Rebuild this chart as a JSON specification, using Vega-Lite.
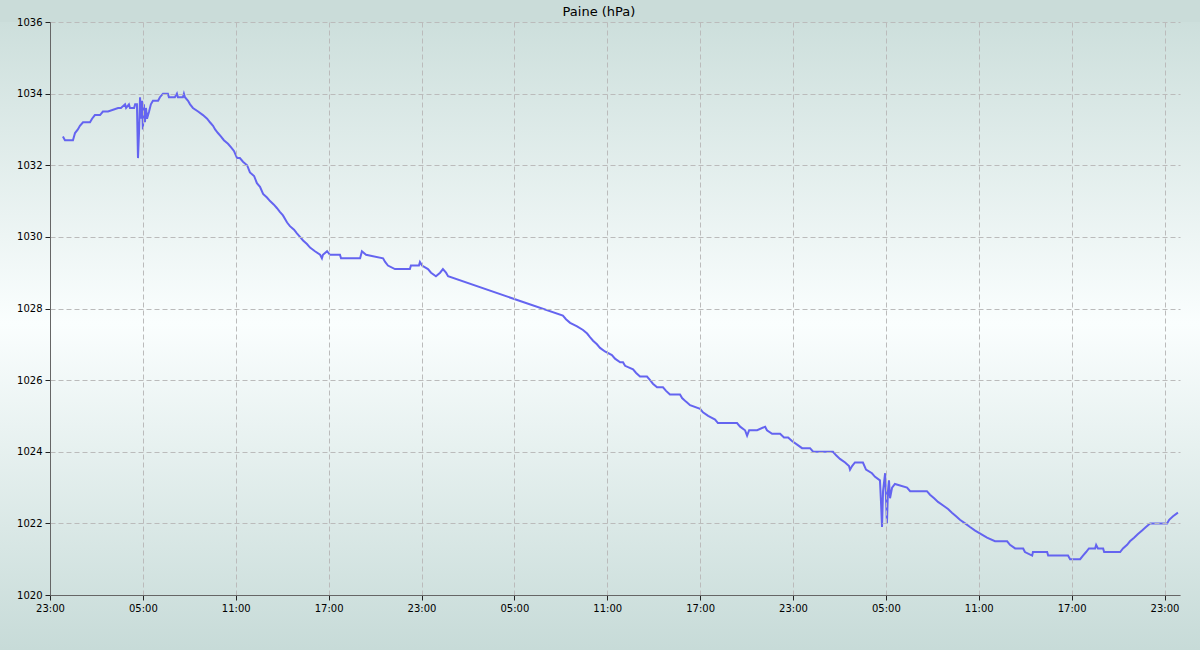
{
  "$schema": "https://vega.github.io/schema/vega-lite/v6.json",
  "width": 1130,
  "height": 573,
  "autosize": "none",
  "padding": {"left": 50, "top": 22, "right": 20, "bottom": 55},
  "background": "#cadcd9",
  "title": {"text": "Paine (hPa)", "fontSize": 13, "fontWeight": "normal", "font": "DejaVu Sans", "color": "#000000", "anchor": "middle", "offset": -2, "dx": -16},
  "config": {
    "font": "DejaVu Sans",
    "view": {"stroke": "#666666", "strokeWidth": 1},
    "axis": {"domainColor": "#666666", "tickColor": "#222222", "labelColor": "#000000", "labelFontSize": 10, "gridColor": "#bbbbbb", "gridDash": [5, 3], "tickSize": 5}
  },
  "layer": [
    {
      "data": {"values": [{"t1": "2023-01-01T18:00", "t2": "2023-01-05T06:00", "p1": 1036, "p2": 1018.464}]},
      "mark": {"type": "rect", "fill": {"gradient": "linear", "x1": 0, "y1": 0, "x2": 0, "y2": 1, "stops": [{"offset": 0, "color": "#cddfdc"}, {"offset": 0.48, "color": "#fafefe"}, {"offset": 1, "color": "#c7dbd8"}]}},
      "encoding": {
        "x": {"field": "t1", "type": "temporal", "scale": {"domain": ["2023-01-01T23:00", "2023-01-05T00:00"], "nice": false},
          "axis": {"title": null, "zindex": 1, "format": "%H:%M", "labelFlush": false, "labelPadding": 3,
            "values": [
              {"year": 2023, "month": 1, "date": 1, "hours": 23},
              {"year": 2023, "month": 1, "date": 2, "hours": 5},
              {"year": 2023, "month": 1, "date": 2, "hours": 11},
              {"year": 2023, "month": 1, "date": 2, "hours": 17},
              {"year": 2023, "month": 1, "date": 2, "hours": 23},
              {"year": 2023, "month": 1, "date": 3, "hours": 5},
              {"year": 2023, "month": 1, "date": 3, "hours": 11},
              {"year": 2023, "month": 1, "date": 3, "hours": 17},
              {"year": 2023, "month": 1, "date": 3, "hours": 23},
              {"year": 2023, "month": 1, "date": 4, "hours": 5},
              {"year": 2023, "month": 1, "date": 4, "hours": 11},
              {"year": 2023, "month": 1, "date": 4, "hours": 17},
              {"year": 2023, "month": 1, "date": 4, "hours": 23}
            ]}},
        "x2": {"field": "t2"},
        "y": {"field": "p1", "type": "quantitative", "scale": {"domain": [1020, 1036], "nice": false, "zero": false},
          "axis": {"title": null, "zindex": 1, "format": "d", "labelFlush": false, "labelPadding": 3, "values": [1020, 1022, 1024, 1026, 1028, 1030, 1032, 1034, 1036]}},
        "y2": {"field": "p2"}
      }
    },
    {
      "data": {"values": [
        {"t": "2023-01-01T23:50", "p": 1032.8},
        {"t": "2023-01-01T23:58", "p": 1032.7},
        {"t": "2023-01-02T00:29", "p": 1032.7},
        {"t": "2023-01-02T00:37", "p": 1032.9},
        {"t": "2023-01-02T00:48", "p": 1033.0},
        {"t": "2023-01-02T00:56", "p": 1033.1},
        {"t": "2023-01-02T01:08", "p": 1033.2},
        {"t": "2023-01-02T01:35", "p": 1033.2},
        {"t": "2023-01-02T01:43", "p": 1033.3},
        {"t": "2023-01-02T01:54", "p": 1033.4},
        {"t": "2023-01-02T02:14", "p": 1033.4},
        {"t": "2023-01-02T02:25", "p": 1033.5},
        {"t": "2023-01-02T02:45", "p": 1033.5},
        {"t": "2023-01-02T03:24", "p": 1033.6},
        {"t": "2023-01-02T03:35", "p": 1033.6},
        {"t": "2023-01-02T03:51", "p": 1033.7},
        {"t": "2023-01-02T03:55", "p": 1033.6},
        {"t": "2023-01-02T04:06", "p": 1033.7},
        {"t": "2023-01-02T04:10", "p": 1033.6},
        {"t": "2023-01-02T04:26", "p": 1033.6},
        {"t": "2023-01-02T04:30", "p": 1033.7},
        {"t": "2023-01-02T04:37", "p": 1033.7},
        {"t": "2023-01-02T04:41", "p": 1032.2},
        {"t": "2023-01-02T04:45", "p": 1032.9},
        {"t": "2023-01-02T04:49", "p": 1033.9},
        {"t": "2023-01-02T04:53", "p": 1033.3},
        {"t": "2023-01-02T04:57", "p": 1033.8},
        {"t": "2023-01-02T05:00", "p": 1033.0},
        {"t": "2023-01-02T05:04", "p": 1033.7},
        {"t": "2023-01-02T05:08", "p": 1033.2},
        {"t": "2023-01-02T05:12", "p": 1033.6},
        {"t": "2023-01-02T05:16", "p": 1033.3},
        {"t": "2023-01-02T05:24", "p": 1033.5},
        {"t": "2023-01-02T05:31", "p": 1033.7},
        {"t": "2023-01-02T05:39", "p": 1033.8},
        {"t": "2023-01-02T05:59", "p": 1033.8},
        {"t": "2023-01-02T06:06", "p": 1033.9},
        {"t": "2023-01-02T06:18", "p": 1034.0},
        {"t": "2023-01-02T06:37", "p": 1034.0},
        {"t": "2023-01-02T06:41", "p": 1033.9},
        {"t": "2023-01-02T07:04", "p": 1033.9},
        {"t": "2023-01-02T07:12", "p": 1034.0},
        {"t": "2023-01-02T07:16", "p": 1033.9},
        {"t": "2023-01-02T07:35", "p": 1033.9},
        {"t": "2023-01-02T07:39", "p": 1034.0},
        {"t": "2023-01-02T07:43", "p": 1033.9},
        {"t": "2023-01-02T07:55", "p": 1033.8},
        {"t": "2023-01-02T08:03", "p": 1033.7},
        {"t": "2023-01-02T08:14", "p": 1033.6},
        {"t": "2023-01-02T08:34", "p": 1033.5},
        {"t": "2023-01-02T08:53", "p": 1033.4},
        {"t": "2023-01-02T09:09", "p": 1033.3},
        {"t": "2023-01-02T09:20", "p": 1033.2},
        {"t": "2023-01-02T09:32", "p": 1033.1},
        {"t": "2023-01-02T09:40", "p": 1033.0},
        {"t": "2023-01-02T09:51", "p": 1032.9},
        {"t": "2023-01-02T10:03", "p": 1032.8},
        {"t": "2023-01-02T10:14", "p": 1032.7},
        {"t": "2023-01-02T10:30", "p": 1032.6},
        {"t": "2023-01-02T10:42", "p": 1032.5},
        {"t": "2023-01-02T10:53", "p": 1032.4},
        {"t": "2023-01-02T11:05", "p": 1032.2},
        {"t": "2023-01-02T11:16", "p": 1032.2},
        {"t": "2023-01-02T11:28", "p": 1032.1},
        {"t": "2023-01-02T11:44", "p": 1032.0},
        {"t": "2023-01-02T11:55", "p": 1031.8},
        {"t": "2023-01-02T12:11", "p": 1031.7},
        {"t": "2023-01-02T12:22", "p": 1031.5},
        {"t": "2023-01-02T12:34", "p": 1031.4},
        {"t": "2023-01-02T12:46", "p": 1031.2},
        {"t": "2023-01-02T13:01", "p": 1031.1},
        {"t": "2023-01-02T13:13", "p": 1031.0},
        {"t": "2023-01-02T13:28", "p": 1030.9},
        {"t": "2023-01-02T13:40", "p": 1030.8},
        {"t": "2023-01-02T13:51", "p": 1030.7},
        {"t": "2023-01-02T14:03", "p": 1030.6},
        {"t": "2023-01-02T14:19", "p": 1030.4},
        {"t": "2023-01-02T14:30", "p": 1030.3},
        {"t": "2023-01-02T14:46", "p": 1030.2},
        {"t": "2023-01-02T14:57", "p": 1030.1},
        {"t": "2023-01-02T15:09", "p": 1030.0},
        {"t": "2023-01-02T15:21", "p": 1029.9},
        {"t": "2023-01-02T15:36", "p": 1029.8},
        {"t": "2023-01-02T15:48", "p": 1029.7},
        {"t": "2023-01-02T16:07", "p": 1029.6},
        {"t": "2023-01-02T16:27", "p": 1029.5},
        {"t": "2023-01-02T16:34", "p": 1029.4},
        {"t": "2023-01-02T16:38", "p": 1029.5},
        {"t": "2023-01-02T16:54", "p": 1029.6},
        {"t": "2023-01-02T17:05", "p": 1029.5},
        {"t": "2023-01-02T17:44", "p": 1029.5},
        {"t": "2023-01-02T17:48", "p": 1029.4},
        {"t": "2023-01-02T19:02", "p": 1029.4},
        {"t": "2023-01-02T19:09", "p": 1029.6},
        {"t": "2023-01-02T19:25", "p": 1029.5},
        {"t": "2023-01-02T20:31", "p": 1029.4},
        {"t": "2023-01-02T20:39", "p": 1029.3},
        {"t": "2023-01-02T20:50", "p": 1029.2},
        {"t": "2023-01-02T21:17", "p": 1029.1},
        {"t": "2023-01-02T22:15", "p": 1029.1},
        {"t": "2023-01-02T22:19", "p": 1029.2},
        {"t": "2023-01-02T22:50", "p": 1029.2},
        {"t": "2023-01-02T22:54", "p": 1029.3},
        {"t": "2023-01-02T23:02", "p": 1029.2},
        {"t": "2023-01-02T23:25", "p": 1029.1},
        {"t": "2023-01-02T23:37", "p": 1029.0},
        {"t": "2023-01-02T23:56", "p": 1028.9},
        {"t": "2023-01-03T00:12", "p": 1029.0},
        {"t": "2023-01-03T00:23", "p": 1029.1},
        {"t": "2023-01-03T00:35", "p": 1029.0},
        {"t": "2023-01-03T00:43", "p": 1028.9},
        {"t": "2023-01-03T08:08", "p": 1027.8},
        {"t": "2023-01-03T08:20", "p": 1027.7},
        {"t": "2023-01-03T08:36", "p": 1027.6},
        {"t": "2023-01-03T09:03", "p": 1027.5},
        {"t": "2023-01-03T09:26", "p": 1027.4},
        {"t": "2023-01-03T09:42", "p": 1027.3},
        {"t": "2023-01-03T09:53", "p": 1027.2},
        {"t": "2023-01-03T10:05", "p": 1027.1},
        {"t": "2023-01-03T10:20", "p": 1027.0},
        {"t": "2023-01-03T10:32", "p": 1026.9},
        {"t": "2023-01-03T10:51", "p": 1026.8},
        {"t": "2023-01-03T11:18", "p": 1026.7},
        {"t": "2023-01-03T11:30", "p": 1026.6},
        {"t": "2023-01-03T11:50", "p": 1026.5},
        {"t": "2023-01-03T12:01", "p": 1026.5},
        {"t": "2023-01-03T12:09", "p": 1026.4},
        {"t": "2023-01-03T12:40", "p": 1026.3},
        {"t": "2023-01-03T12:52", "p": 1026.2},
        {"t": "2023-01-03T13:07", "p": 1026.1},
        {"t": "2023-01-03T13:34", "p": 1026.1},
        {"t": "2023-01-03T13:46", "p": 1026.0},
        {"t": "2023-01-03T13:57", "p": 1025.9},
        {"t": "2023-01-03T14:13", "p": 1025.8},
        {"t": "2023-01-03T14:36", "p": 1025.8},
        {"t": "2023-01-03T14:48", "p": 1025.7},
        {"t": "2023-01-03T15:03", "p": 1025.6},
        {"t": "2023-01-03T15:42", "p": 1025.6},
        {"t": "2023-01-03T15:50", "p": 1025.5},
        {"t": "2023-01-03T16:05", "p": 1025.4},
        {"t": "2023-01-03T16:21", "p": 1025.3},
        {"t": "2023-01-03T17:00", "p": 1025.2},
        {"t": "2023-01-03T17:11", "p": 1025.1},
        {"t": "2023-01-03T17:31", "p": 1025.0},
        {"t": "2023-01-03T17:58", "p": 1024.9},
        {"t": "2023-01-03T18:09", "p": 1024.8},
        {"t": "2023-01-03T19:23", "p": 1024.8},
        {"t": "2023-01-03T19:35", "p": 1024.7},
        {"t": "2023-01-03T19:54", "p": 1024.6},
        {"t": "2023-01-03T20:02", "p": 1024.45},
        {"t": "2023-01-03T20:10", "p": 1024.6},
        {"t": "2023-01-03T20:41", "p": 1024.6},
        {"t": "2023-01-03T21:12", "p": 1024.7},
        {"t": "2023-01-03T21:19", "p": 1024.6},
        {"t": "2023-01-03T21:39", "p": 1024.5},
        {"t": "2023-01-03T22:10", "p": 1024.5},
        {"t": "2023-01-03T22:25", "p": 1024.4},
        {"t": "2023-01-03T22:41", "p": 1024.4},
        {"t": "2023-01-03T22:56", "p": 1024.3},
        {"t": "2023-01-03T23:16", "p": 1024.2},
        {"t": "2023-01-03T23:35", "p": 1024.1},
        {"t": "2023-01-04T00:06", "p": 1024.1},
        {"t": "2023-01-04T00:18", "p": 1024.0},
        {"t": "2023-01-04T01:35", "p": 1024.0},
        {"t": "2023-01-04T01:47", "p": 1023.9},
        {"t": "2023-01-04T02:02", "p": 1023.8},
        {"t": "2023-01-04T02:22", "p": 1023.7},
        {"t": "2023-01-04T02:37", "p": 1023.6},
        {"t": "2023-01-04T02:41", "p": 1023.5},
        {"t": "2023-01-04T02:49", "p": 1023.6},
        {"t": "2023-01-04T03:00", "p": 1023.7},
        {"t": "2023-01-04T03:31", "p": 1023.7},
        {"t": "2023-01-04T03:43", "p": 1023.5},
        {"t": "2023-01-04T04:06", "p": 1023.4},
        {"t": "2023-01-04T04:18", "p": 1023.3},
        {"t": "2023-01-04T04:37", "p": 1023.2},
        {"t": "2023-01-04T04:41", "p": 1022.6},
        {"t": "2023-01-04T04:45", "p": 1021.9},
        {"t": "2023-01-04T04:49", "p": 1022.9},
        {"t": "2023-01-04T04:57", "p": 1023.4},
        {"t": "2023-01-04T05:01", "p": 1022.6},
        {"t": "2023-01-04T05:04", "p": 1022.0},
        {"t": "2023-01-04T05:08", "p": 1022.9},
        {"t": "2023-01-04T05:12", "p": 1023.2},
        {"t": "2023-01-04T05:16", "p": 1022.7},
        {"t": "2023-01-04T05:24", "p": 1023.0},
        {"t": "2023-01-04T05:35", "p": 1023.1},
        {"t": "2023-01-04T06:22", "p": 1023.0},
        {"t": "2023-01-04T06:34", "p": 1022.9},
        {"t": "2023-01-04T07:39", "p": 1022.9},
        {"t": "2023-01-04T07:51", "p": 1022.8},
        {"t": "2023-01-04T08:07", "p": 1022.7},
        {"t": "2023-01-04T08:22", "p": 1022.6},
        {"t": "2023-01-04T08:42", "p": 1022.5},
        {"t": "2023-01-04T09:01", "p": 1022.4},
        {"t": "2023-01-04T09:16", "p": 1022.3},
        {"t": "2023-01-04T09:32", "p": 1022.2},
        {"t": "2023-01-04T09:47", "p": 1022.1},
        {"t": "2023-01-04T10:07", "p": 1022.0},
        {"t": "2023-01-04T10:26", "p": 1021.9},
        {"t": "2023-01-04T10:46", "p": 1021.8},
        {"t": "2023-01-04T11:09", "p": 1021.7},
        {"t": "2023-01-04T11:32", "p": 1021.6},
        {"t": "2023-01-04T12:03", "p": 1021.5},
        {"t": "2023-01-04T12:50", "p": 1021.5},
        {"t": "2023-01-04T13:01", "p": 1021.4},
        {"t": "2023-01-04T13:21", "p": 1021.3},
        {"t": "2023-01-04T13:52", "p": 1021.3},
        {"t": "2023-01-04T13:59", "p": 1021.2},
        {"t": "2023-01-04T14:27", "p": 1021.1},
        {"t": "2023-01-04T14:30", "p": 1021.2},
        {"t": "2023-01-04T15:25", "p": 1021.2},
        {"t": "2023-01-04T15:29", "p": 1021.1},
        {"t": "2023-01-04T16:46", "p": 1021.1},
        {"t": "2023-01-04T16:54", "p": 1021.0},
        {"t": "2023-01-04T17:33", "p": 1021.0},
        {"t": "2023-01-04T17:44", "p": 1021.1},
        {"t": "2023-01-04T17:56", "p": 1021.2},
        {"t": "2023-01-04T18:07", "p": 1021.3},
        {"t": "2023-01-04T18:31", "p": 1021.3},
        {"t": "2023-01-04T18:35", "p": 1021.4},
        {"t": "2023-01-04T18:42", "p": 1021.3},
        {"t": "2023-01-04T19:02", "p": 1021.3},
        {"t": "2023-01-04T19:06", "p": 1021.2},
        {"t": "2023-01-04T20:08", "p": 1021.2},
        {"t": "2023-01-04T20:19", "p": 1021.3},
        {"t": "2023-01-04T20:35", "p": 1021.4},
        {"t": "2023-01-04T20:46", "p": 1021.5},
        {"t": "2023-01-04T21:02", "p": 1021.6},
        {"t": "2023-01-04T21:17", "p": 1021.7},
        {"t": "2023-01-04T21:33", "p": 1021.8},
        {"t": "2023-01-04T21:48", "p": 1021.9},
        {"t": "2023-01-04T22:04", "p": 1022.0},
        {"t": "2023-01-04T23:10", "p": 1022.0},
        {"t": "2023-01-04T23:18", "p": 1022.1},
        {"t": "2023-01-04T23:33", "p": 1022.2},
        {"t": "2023-01-04T23:52", "p": 1022.3}
      ]},
      "mark": {"type": "line", "color": "#6464f0", "strokeWidth": 2},
      "encoding": {
        "x": {"field": "t", "type": "temporal", "scale": {"domain": ["2023-01-01T23:00", "2023-01-05T00:00"], "nice": false},
          "axis": {"title": null, "zindex": 1, "format": "%H:%M", "labelFlush": false, "labelPadding": 3,
            "values": [
              {"year": 2023, "month": 1, "date": 1, "hours": 23},
              {"year": 2023, "month": 1, "date": 2, "hours": 5},
              {"year": 2023, "month": 1, "date": 2, "hours": 11},
              {"year": 2023, "month": 1, "date": 2, "hours": 17},
              {"year": 2023, "month": 1, "date": 2, "hours": 23},
              {"year": 2023, "month": 1, "date": 3, "hours": 5},
              {"year": 2023, "month": 1, "date": 3, "hours": 11},
              {"year": 2023, "month": 1, "date": 3, "hours": 17},
              {"year": 2023, "month": 1, "date": 3, "hours": 23},
              {"year": 2023, "month": 1, "date": 4, "hours": 5},
              {"year": 2023, "month": 1, "date": 4, "hours": 11},
              {"year": 2023, "month": 1, "date": 4, "hours": 17},
              {"year": 2023, "month": 1, "date": 4, "hours": 23}
            ]}},
        "y": {"field": "p", "type": "quantitative", "scale": {"domain": [1020, 1036], "nice": false, "zero": false},
          "axis": {"title": null, "zindex": 1, "format": "d", "labelFlush": false, "labelPadding": 3, "values": [1020, 1022, 1024, 1026, 1028, 1030, 1032, 1034, 1036]}}
      }
    }
  ]
}
